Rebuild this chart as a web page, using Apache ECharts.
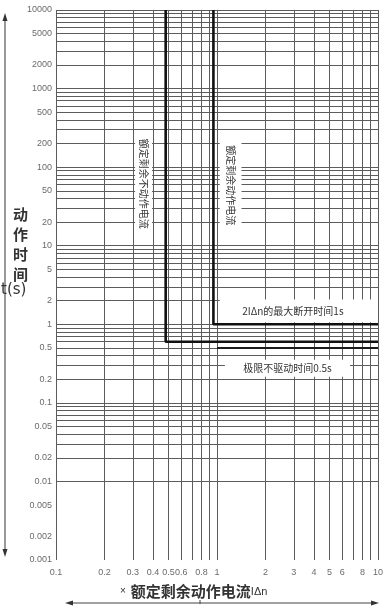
<!DOCTYPE html>
<html>
<head>
<meta charset="utf-8">
<script src="https://cdn.jsdelivr.net/npm/echarts@6/dist/echarts.min.js"></script>
<style>
  html, body { margin: 0; padding: 0; background: #fff; }
  #chart { width: 387px; height: 608px; }
</style>
</head>
<body>
<div id="chart"></div>
<script>
// Axis tick labels (multiples of the rated residual operating current, and trip time in s)
const xTickLabels = [0.1, 0.2, 0.3, 0.4, 0.5, 0.6, 0.8, 1, 2, 3, 4, 5, 6, 8, 10];
const yTickLabels = [0.001, 0.002, 0.005, 0.01, 0.02, 0.05, 0.1, 0.2, 0.5, 1, 2, 5,
                     10, 20, 50, 100, 200, 500, 1000, 2000, 5000, 10000];

// Log-paper grid lines
const xGridValues = [0.1, 0.2, 0.3, 0.4, 0.5, 0.6, 0.7, 0.8, 0.9,
                     1, 2, 3, 4, 5, 6, 7, 8, 9, 10];
const yGridValues = [
  0.001, 0.002, 0.003, 0.004, 0.005, 0.006, 0.007, 0.008, 0.009,
  0.01, 0.02, 0.03, 0.04, 0.05, 0.06, 0.07, 0.08, 0.09,
  0.1, 0.2, 0.3, 0.4, 0.5, 0.6, 0.7, 0.8, 0.9,
  1, 2, 3, 4, 5, 6, 7, 8, 9,
  10, 20, 30, 40, 50, 60, 70, 80, 90,
  100, 200, 300, 400, 500, 600, 700, 800, 900,
  1000, 2000, 3000, 4000, 5000, 6000, 7000, 8000, 9000,
  10000
];

// Characteristic boundaries [multiple of IΔn, time s]
const nonTripCurve = [[0.48, 10000], [0.48, 0.6], [10, 0.6]];
const tripCurve = [[0.95, 10000], [0.95, 1], [10, 1]];
const limitNonActuatingLine = [[1, 0.5], [10, 0.5]];

const CJK = '"Noto Sans CJK SC", "Noto Sans", sans-serif';
const gridColor = '#5c5c5c';

const chart = echarts.init(document.getElementById('chart'), null, { renderer: 'canvas' });

const thickLine = {
  type: 'line',
  symbol: 'none',
  silent: true,
  z: 4,
  lineStyle: { color: '#111', width: 2.6 },
  clip: false
};

const boxLabel = {
  show: true,
  position: 'inside',
  fontFamily: CJK,
  fontSize: 10,
  color: '#333'
};

chart.setOption({
  animation: false,
  backgroundColor: '#fff',
  grid: { left: 56, right: 9, top: 10, bottom: 48 },
  xAxis: {
    type: 'log', logBase: 10, min: 0.1, max: 10,
    axisLine: { show: false }, axisTick: { show: false },
    axisLabel: { show: false }, splitLine: { show: false }
  },
  yAxis: {
    type: 'log', logBase: 10, min: 0.001, max: 10000,
    axisLine: { show: false }, axisTick: { show: false },
    axisLabel: { show: false }, splitLine: { show: false }
  },
  series: [
    {
      // log-paper grid
      type: 'line', data: [], silent: true,
      markLine: {
        silent: true, symbol: 'none', z: 1,
        label: { show: false },
        lineStyle: { color: gridColor, width: 1, type: 'solid' },
        emphasis: { disabled: true },
        data: xGridValues.map(v => ({ xAxis: v }))
          .concat(yGridValues.map(v => ({ yAxis: v })))
      }
    },
    {
      // text boxes blanking the grid
      type: 'line', data: [], silent: true,
      markArea: {
        silent: true, z: 3,
        itemStyle: { color: '#fff' },
        emphasis: { disabled: true },
        data: [
          [{ xAxis: 0.31, yAxis: 280, name: '额定剩余不动作电流',
             label: Object.assign({}, boxLabel, { rotate: -90 }) },
           { xAxis: 0.395, yAxis: 13.5 }],
          [{ xAxis: 1.04, yAxis: 230, name: '额定剩余动作电流',
             label: Object.assign({}, boxLabel, { rotate: -90 }) },
           { xAxis: 1.42, yAxis: 15 }],
          [{ xAxis: 1.04, yAxis: 2.06, name: '2IΔn的最大断开时间1s',
             label: Object.assign({}, boxLabel, { offset: [-6, 0] }) },
           { xAxis: 10, yAxis: 1.06 }],
          [{ xAxis: 1.12, yAxis: 0.353, name: '极限不驱动时间0.5s', label: boxLabel },
           { xAxis: 6.7, yAxis: 0.215 }]
        ]
      }
    },
    Object.assign({ name: 'non-trip', data: nonTripCurve }, thickLine),
    Object.assign({ name: 'trip', data: tripCurve }, thickLine),
    Object.assign({ name: 'limit', data: limitNonActuatingLine }, thickLine,
      { lineStyle: { color: '#1a1a1a', width: 2 } }),
    {
      // x tick labels
      type: 'scatter', silent: true, clip: false, symbolSize: 0,
      data: xTickLabels.map(v => [v, 0.001]),
      label: {
        show: true, position: 'bottom', distance: 8,
        formatter: p => String(p.value[0]),
        fontFamily: 'Liberation Sans, Arial, sans-serif', fontSize: 9, color: '#444'
      }
    },
    {
      // y tick labels
      type: 'scatter', silent: true, clip: false, symbolSize: 0,
      data: yTickLabels.map(v => [0.1, v]),
      label: {
        show: true, position: 'left', distance: 4,
        formatter: p => String(p.value[1]),
        fontFamily: 'Liberation Sans, Arial, sans-serif', fontSize: 9, color: '#444'
      }
    }
  ],
  graphic: [
    // vertical time arrow
    { type: 'line', shape: { x1: 5, y1: 20, x2: 5, y2: 550 },
      style: { stroke: '#555', lineWidth: 1.2 }, silent: true },
    { type: 'polygon', shape: { points: [[5, 13], [2.5, 21], [7.5, 21]] },
      style: { fill: '#333' }, silent: true },
    { type: 'polygon', shape: { points: [[5, 557], [2.5, 549], [7.5, 549]] },
      style: { fill: '#333' }, silent: true },
    // y axis title
    { type: 'text', left: 13, top: 204, silent: true,
      style: { text: '动\n作\n时\n间', font: 'bold 15px ' + CJK, lineHeight: 20,
               fill: '#333' } },
    { type: 'text', left: 1, top: 283, silent: true,
      style: { text: 't(s)', font: '15px "DejaVu Sans", sans-serif', fill: '#333' } },
    // x axis title
    { type: 'text', left: 120, top: 584, silent: true,
      style: {
        rich: {
          m: { fontFamily: 'Liberation Sans, sans-serif', fontSize: 10, fill: '#333', padding: [0, 5, 0, 0] },
          t: { fontFamily: CJK, fontSize: 15, fontWeight: 'bold', fill: '#333' },
          s: { fontFamily: 'Liberation Sans, sans-serif', fontSize: 11, fill: '#333' }
        },
        text: '{m|×}{t|额定剩余动作电流}{s|IΔn}'
      } },
    // horizontal current arrow
    { type: 'line', shape: { x1: 72, y1: 603, x2: 372, y2: 603 },
      style: { stroke: '#444', lineWidth: 1.2 }, silent: true },
    { type: 'polygon', shape: { points: [[65, 603], [73, 600.5], [73, 605.5]] },
      style: { fill: '#333' }, silent: true },
    { type: 'polygon', shape: { points: [[379, 603], [371, 600.5], [371, 605.5]] },
      style: { fill: '#333' }, silent: true },
    { type: 'line', shape: { x1: 200, y1: 600, x2: 200, y2: 604 },
      style: { stroke: '#444', lineWidth: 1 }, silent: true }
  ]
});
</script>
</body>
</html>
